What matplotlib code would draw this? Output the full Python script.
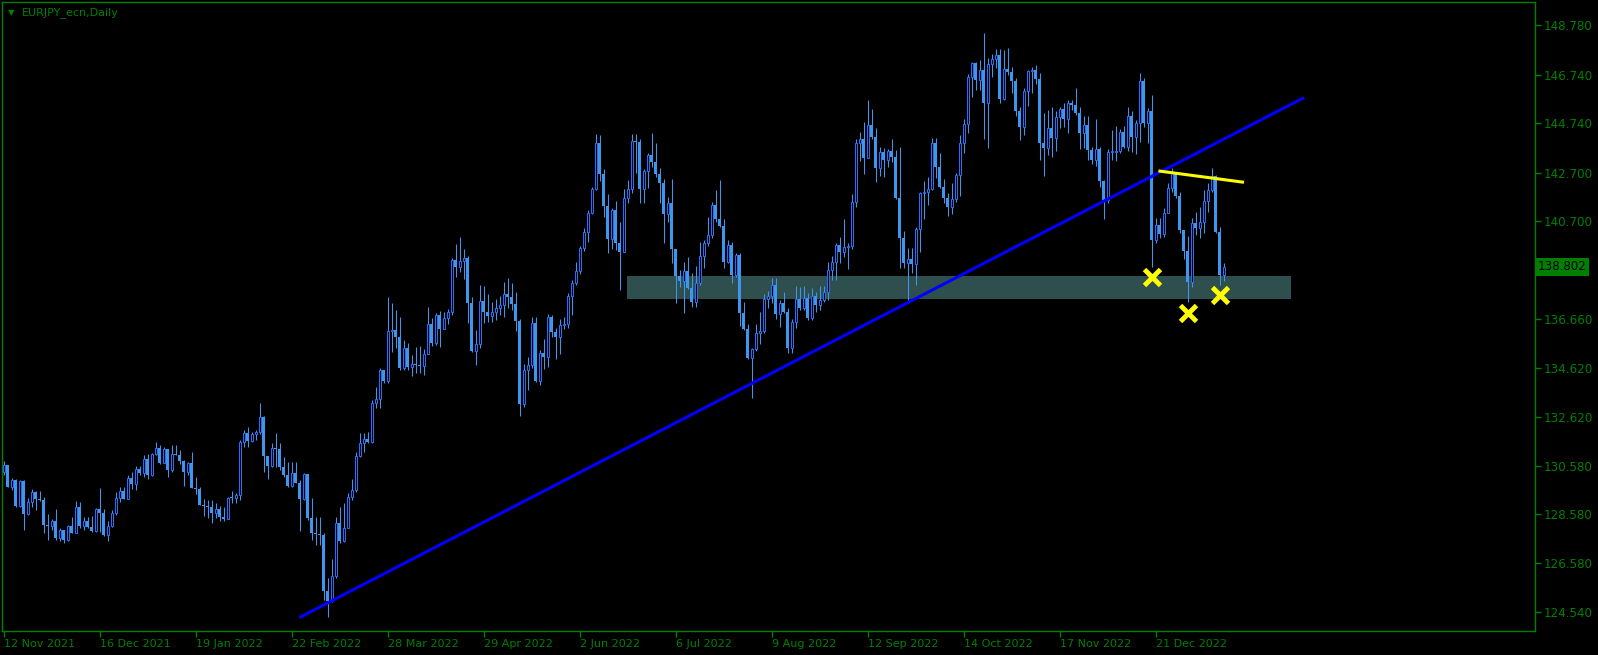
import numpy as np
import pandas as pd
import matplotlib
matplotlib.use("Agg")
import matplotlib.pyplot as plt
from matplotlib.patches import Rectangle

plt.rcParams['font.family'] = 'DejaVu Sans'

# --- data (EURJPY daily, one bar per business day) ---
symbol_title = "EURJPY_ecn,Daily"
first_open = 130.33

closes = [
    130.62, 129.71, 130.00, 128.93, 129.96, 128.60, 129.09, 129.50, 129.22, 129.17,
    128.14, 128.10, 128.31, 127.60, 127.93, 127.52, 128.10, 127.81, 128.88, 128.10,
    128.31, 128.06, 127.89, 128.80, 128.64, 127.72, 128.10, 128.64, 129.26, 129.55,
    129.22, 130.08, 129.84, 130.46, 130.29, 130.87, 130.21, 131.08, 131.32, 130.70,
    131.28, 130.41, 131.08, 131.04, 130.79, 130.33, 130.70, 129.67, 129.63, 128.97,
    128.93, 128.88, 128.64, 128.80, 128.47, 128.39, 129.26, 129.25, 129.38, 131.57,
    131.94, 131.61, 131.90, 131.98, 132.60, 130.99, 130.58, 131.32, 131.28, 130.54,
    130.21, 129.75, 130.29, 129.88, 129.22, 130.25, 128.43, 127.81, 127.77, 127.72,
    125.41, 125.00, 126.03, 128.22, 127.48, 128.02, 129.30, 129.59, 130.99, 131.53,
    131.69, 131.57, 133.18, 133.35, 134.55, 134.09, 136.16, 136.20, 135.91, 134.63,
    135.45, 134.67, 134.79, 134.75, 134.73, 135.21, 136.45, 135.66, 136.82, 136.24,
    136.70, 136.95, 139.09, 138.80, 139.05, 139.17, 137.31, 135.33, 135.62, 137.40,
    136.95, 136.78, 136.93, 137.11, 137.23, 137.69, 137.56, 137.27, 136.57, 133.14,
    134.55, 134.75, 136.49, 134.09, 135.25, 135.08, 136.74, 136.12, 135.91, 136.41,
    136.45, 137.60, 138.14, 138.64, 139.59, 140.25, 141.04, 142.02, 143.93, 142.64,
    141.32, 139.96, 141.16, 139.79, 139.42, 141.65, 142.03, 144.01, 143.97, 142.02,
    142.77, 143.43, 143.14, 142.64, 142.27, 140.99, 141.45, 139.54, 138.43, 138.22,
    138.64, 137.93, 137.36, 138.14, 139.25, 139.79, 140.12, 141.36, 140.78, 140.49,
    139.01, 139.71, 138.47, 139.30, 136.90, 136.24, 135.04, 135.41, 136.07, 136.16,
    137.48, 137.60, 138.06, 136.86, 137.31, 136.95, 135.45, 136.53, 137.48, 137.11,
    137.52, 136.70, 137.60, 137.23, 137.44, 137.77, 138.68, 139.01, 139.71, 139.42,
    139.63, 139.67, 141.49, 143.93, 144.09, 143.31, 144.67, 144.17, 142.89, 143.55,
    143.22, 143.59, 143.35, 141.65, 140.00, 138.97, 139.13, 138.93, 140.37, 141.86,
    141.90, 142.02, 143.93, 142.93, 142.11, 141.65, 141.28, 141.61, 142.60, 143.92,
    144.71, 146.65, 147.23, 146.53, 146.94, 145.58, 147.19, 147.40, 147.56, 145.74,
    146.98, 146.86, 146.49, 145.25, 144.59, 146.07, 146.90, 146.95, 146.57, 143.93,
    143.72, 144.55, 144.13, 145.00, 145.33, 144.92, 145.58, 145.49, 145.16, 144.34,
    144.67, 143.64, 143.22, 143.68, 142.35, 141.57, 143.55, 143.57, 143.59, 144.38,
    143.76, 145.04, 144.17, 144.75, 146.49, 144.75, 145.25, 139.92, 140.54, 140.17,
    141.03, 142.07, 142.69, 141.74, 140.33, 139.46, 138.18, 140.62, 140.41, 140.66,
    141.53, 141.98, 142.56, 140.25, 138.47, 138.80,
]

highs = [
    130.79, 130.54, 130.08, 130.04, 130.00, 130.00, 129.26, 129.63, 129.55, 129.55,
    129.30, 128.60, 128.39, 128.80, 128.02, 127.89, 128.14, 128.47, 129.13, 129.09,
    128.47, 128.47, 128.51, 128.84, 129.67, 128.80, 128.31, 128.76, 129.50, 129.71,
    129.71, 130.21, 130.33, 130.58, 130.58, 131.03, 131.08, 131.12, 131.57, 131.45,
    131.36, 131.24, 131.45, 131.45, 131.24, 130.83, 130.75, 131.16, 130.12, 129.71,
    129.22, 129.17, 129.17, 129.05, 128.93, 128.88, 129.30, 129.55, 129.46, 131.65,
    132.07, 132.19, 131.98, 132.07, 133.18, 132.64, 130.83, 131.53, 131.94, 131.53,
    130.95, 130.75, 130.75, 130.75, 130.00, 130.29, 129.79, 129.26, 128.47, 128.47,
    127.81, 125.95, 126.74, 128.47, 128.88, 129.05, 129.46, 130.04, 131.16, 131.94,
    131.94, 131.98, 133.31, 133.84, 134.63, 134.55, 137.56, 137.31, 137.02, 136.74,
    135.79, 135.66, 135.17, 135.50, 135.54, 135.41, 137.14, 136.70, 136.90, 136.99,
    136.95, 137.07, 139.17, 139.75, 140.04, 139.54, 139.26, 137.56, 136.20, 138.06,
    138.02, 137.69, 137.36, 137.48, 137.60, 138.19, 138.35, 138.14, 137.77, 136.66,
    134.79, 135.08, 136.74, 136.74, 135.37, 135.83, 136.86, 136.82, 136.28, 136.66,
    136.74, 137.73, 138.27, 139.01, 139.67, 140.41, 141.16, 142.11, 144.30, 144.26,
    142.85, 141.82, 141.24, 141.53, 140.66, 142.02, 142.40, 144.30, 144.30, 144.09,
    142.85, 143.51, 144.34, 143.93, 142.89, 142.44, 141.69, 142.44, 139.54, 138.68,
    139.01, 139.21, 138.55, 138.84, 139.83, 139.92, 140.87, 141.49, 141.98, 142.40,
    140.78, 139.92, 139.83, 139.38, 139.38, 137.36, 136.45, 135.45, 136.45, 136.95,
    137.69, 137.81, 138.35, 138.35, 137.44, 137.77, 137.11, 136.66, 138.02, 137.98,
    138.02, 137.73, 137.94, 137.77, 138.02, 138.02, 139.01, 139.26, 139.79, 140.04,
    140.78, 139.79, 141.82, 144.09, 144.38, 144.79, 145.70, 145.32, 144.55, 143.76,
    143.72, 143.68, 144.09, 143.64, 143.76, 140.29, 139.59, 139.59, 140.45, 141.90,
    142.35, 142.52, 144.13, 144.13, 143.51, 142.44, 141.86, 142.27, 142.69, 144.26,
    144.92, 146.78, 147.27, 147.27, 147.35, 148.47, 147.44, 147.60, 147.81, 147.81,
    147.77, 147.85, 147.07, 146.61, 145.41, 146.20, 146.94, 147.07, 147.15, 146.82,
    145.16, 145.29, 145.41, 145.25, 145.41, 145.58, 145.70, 145.70, 146.20, 145.41,
    145.04, 145.04, 143.76, 144.92, 143.76, 142.40, 143.68, 144.46, 144.63, 144.50,
    144.63, 145.41, 145.25, 144.88, 146.82, 146.61, 145.37, 145.91, 140.83, 140.83,
    141.24, 142.27, 142.89, 142.73, 141.90, 140.33, 140.08, 140.83, 141.07, 141.28,
    141.98, 142.27, 142.89, 142.60, 140.45, 138.97,
]

lows = [
    130.21, 129.69, 129.59, 128.88, 128.88, 127.93, 128.55, 128.88, 128.76, 129.15,
    127.81, 127.52, 127.93, 127.52, 127.48, 127.39, 127.48, 127.79, 127.81, 128.02,
    127.93, 128.02, 127.85, 127.85, 127.85, 127.69, 127.48, 128.06, 128.55, 129.09,
    129.20, 129.34, 129.63, 129.59, 130.21, 130.12, 130.04, 130.17, 131.03, 130.66,
    130.70, 130.12, 130.33, 131.02, 130.66, 129.75, 130.21, 129.65, 129.42, 128.95,
    128.51, 128.43, 128.22, 128.43, 128.31, 128.31, 128.39, 129.05, 129.05, 129.17,
    131.36, 131.36, 131.57, 131.65, 131.90, 130.33, 130.04, 130.54, 130.54, 130.41,
    130.12, 129.71, 129.71, 129.86, 127.89, 129.17, 128.35, 127.52, 127.31, 127.31,
    125.04, 124.34, 124.96, 125.95, 127.40, 127.44, 128.02, 129.17, 129.50, 130.95,
    131.16, 131.53, 131.53, 132.97, 132.97, 134.01, 134.01, 135.29, 135.45, 134.55,
    134.55, 134.55, 134.30, 134.42, 134.42, 134.34, 135.29, 135.54, 135.58, 135.50,
    136.24, 136.45, 136.82, 138.39, 138.59, 138.31, 136.49, 135.29, 134.75, 135.45,
    136.49, 136.53, 136.53, 136.61, 136.82, 136.74, 137.11, 137.02, 136.16, 132.64,
    133.02, 133.72, 134.63, 134.05, 133.92, 134.59, 134.67, 135.91, 135.00, 135.21,
    136.24, 136.28, 136.82, 138.06, 138.51, 139.46, 139.83, 140.99, 141.98, 142.35,
    140.87, 139.38, 139.54, 139.50, 137.85, 139.42, 141.45, 141.86, 142.69, 141.45,
    141.45, 142.07, 142.93, 142.52, 141.45, 139.79, 140.66, 138.97, 137.31, 137.97,
    136.90, 137.91, 137.14, 137.14, 138.06, 138.76, 139.67, 140.00, 140.66, 140.45,
    138.76, 138.97, 138.14, 138.39, 136.37, 136.20, 135.00, 133.39, 135.33, 135.62,
    136.07, 137.11, 137.31, 136.66, 136.32, 136.90, 135.25, 135.25, 136.28, 137.02,
    137.02, 136.61, 136.61, 136.95, 137.02, 137.36, 137.44, 138.27, 138.27, 138.97,
    139.21, 138.72, 139.54, 141.28, 143.18, 142.64, 143.39, 144.09, 142.31, 142.56,
    142.52, 142.93, 143.14, 141.63, 138.76, 138.76, 137.44, 138.55, 138.06, 139.42,
    140.78, 141.36, 141.98, 142.48, 142.07, 141.45, 140.91, 140.99, 141.49, 141.74,
    143.51, 144.34, 145.83, 146.11, 146.11, 144.09, 143.72, 146.65, 147.02, 145.58,
    145.70, 146.73, 145.99, 145.04, 144.05, 144.26, 145.45, 145.99, 146.36, 143.22,
    142.56, 143.43, 143.35, 143.59, 144.55, 144.59, 144.34, 145.29, 145.08, 143.68,
    143.72, 143.22, 143.06, 142.97, 142.11, 140.78, 141.45, 143.22, 143.18, 143.51,
    143.72, 143.59, 143.55, 143.47, 143.97, 144.59, 143.93, 138.80, 139.79, 140.00,
    140.04, 141.20, 141.90, 141.65, 140.21, 139.13, 137.36, 137.98, 140.12, 140.00,
    140.21, 141.07, 141.90, 140.21, 138.06, 138.22,
]

dates = pd.bdate_range("2021-11-12", periods=len(closes))

price_ticks = [148.78, 146.74, 144.74, 142.70, 140.70, 136.66,
               134.62, 132.62, 130.58, 128.58, 126.58, 124.54]
last_price = 138.802

# drawn objects, in (bar number, price)
zone_bars = [155.85, 321.85]
zone_prices = [137.48, 138.43]
trend_bars = [73.9, 325.1]
trend_prices = [124.31, 145.80]
neck_bars = [288.7, 310.1]
neck_prices = [142.77, 142.30]
mark_bars = [287, 296, 304]
mark_prices = [138.40, 136.91, 137.63]

# --- colours ---
GREEN = '#008000'
CANDLE = '#3C98EE'
BULL_EDGE = '#2C6CF4'

W, H = 1598, 655
fig = plt.figure(figsize=(W / 100, H / 100), dpi=100, facecolor='black')
ax = fig.add_axes([2 / W, 1 - 631 / H, (1535 - 2) / W, (631 - 2) / H])
ax.set_facecolor('black')
ax.set_xlim(-0.4, 382.85)
ax.set_ylim(123.76, 149.75)

c = np.array(closes)
opens = np.r_[first_open, c[:-1]]
x = np.arange(len(c))
up = c >= opens

wick_lo = np.minimum(lows, np.minimum(opens, c))
wick_hi = np.maximum(highs, np.maximum(opens, c))
ax.vlines(x, wick_lo, wick_hi, color=CANDLE, lw=0.75, zorder=2)

body_lo = np.minimum(opens, c)
body_h = np.maximum(np.abs(c - opens), 0.03)
ax.bar(x[~up], body_h[~up], bottom=body_lo[~up], width=0.75,
       color=CANDLE, linewidth=0, zorder=3)
ax.bar(x[up], body_h[up], bottom=body_lo[up], width=0.5,
       facecolor='black', edgecolor=BULL_EDGE, linewidth=0.75, zorder=3)

# support zone
ax.add_patch(Rectangle((zone_bars[0], zone_prices[0]),
                       zone_bars[1] - zone_bars[0], zone_prices[1] - zone_prices[0],
                       facecolor='#2F4F4F', edgecolor='none', zorder=1))

# trend lines and marks
ax.plot(trend_bars, trend_prices, color='#0000FF', lw=2.2, zorder=4,
        solid_capstyle='butt')
ax.plot(neck_bars, neck_prices, color='#FFFF00', lw=2.2, zorder=5,
        solid_capstyle='butt')
ax.plot(mark_bars, mark_prices, ls='none', marker='x', ms=11, mew=3.5,
        color='#FFFF00', zorder=6)

# axes styling
for sp in ax.spines.values():
    sp.set_color(GREEN)
    sp.set_linewidth(1)

tick_idx = x[::24]
ax.set_xticks(tick_idx)
ax.set_xticklabels([f"{d.day} {d:%b %Y}" for d in dates[tick_idx]])
for lab in ax.get_xticklabels():
    lab.set_horizontalalignment('left')

ax.yaxis.tick_right()
ax.set_yticks(price_ticks)
ax.set_yticklabels([f"{v:.3f}" for v in price_ticks])
ax.tick_params(axis='both', colors=GREEN, labelcolor=GREEN,
               length=4, width=1, direction='out')
ax.tick_params(axis='x', pad=2, labelsize=8)
ax.tick_params(axis='y', pad=2, labelsize=8.6)

ax.text(1.002, last_price, f"{last_price:.3f}", transform=ax.get_yaxis_transform(),
        ha='left', va='center', color='black', fontsize=8.6, clip_on=False,
        bbox=dict(boxstyle='square,pad=0.18', facecolor=GREEN, edgecolor='none'))

fig.text(8 / W, 1 - 13 / H, '\u25bc', color=GREEN, fontsize=6, va='center')
fig.text(22 / W, 1 - 13 / H, symbol_title, color=GREEN, fontsize=8, va='center')

fig.savefig('out.png', dpi=100, facecolor='black')
